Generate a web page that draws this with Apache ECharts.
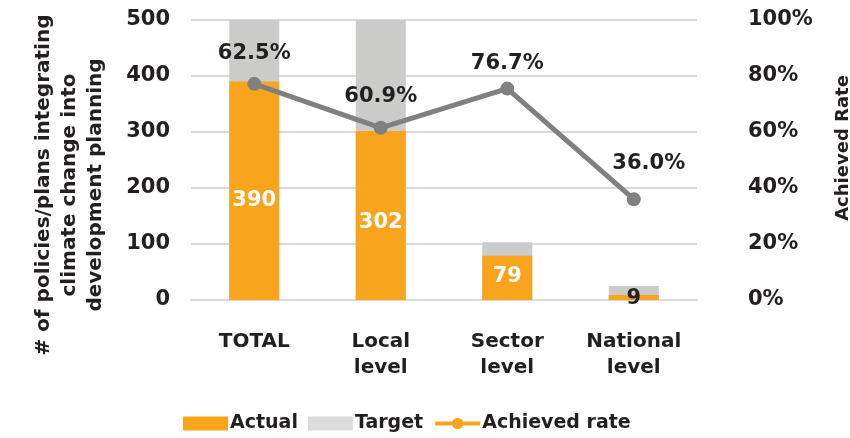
<!DOCTYPE html>
<html>
<head>
<meta charset="utf-8">
<script src="https://cdn.jsdelivr.net/npm/echarts@6/dist/echarts.min.js"></script>
<style>
  html, body { margin: 0; padding: 0; background: #fff; }
  #chart { width: 850px; height: 438px; }
</style>
</head>
<body>
<div id="chart"></div>
<script>
// values
var categories = ['TOTAL', 'Local\nlevel', 'Sector\nlevel', 'National\nlevel'];
var actual = [390, 302, 79, 9];
var target = [500, 500, 103, 25];
var achievedRate = [77.2, 61.5, 75.5, 36];
var rateLabels = ['62.5%', '60.9%', '76.7%', '36.0%'];
var leftTicks = [0, 100, 200, 300, 400, 500];
var rightTicks = [0, 20, 40, 60, 80, 100];

var FONT = 'DejaVu Sans';
var INK = '#231f20';
var ORANGE = '#f8a51d';
var GREY_BAR = '#cbcbca';
var GREY_LINE = '#808080';

// label nudges (x, y)
var rateOffsets = [[0, -1], [0, -2], [0, 4], [15, -6]];
var barLabelOffsets = [[0, 10], [0, 7], [0, -1], [0, 1]];

var chart = echarts.init(document.getElementById('chart'));

var option = {
    animation: false,
    grid: { left: 191, right: 153, top: 20, bottom: 138, outerBoundsMode: 'none', containLabel: false },
    legend: {
        left: 178,
        top: 409,
        itemWidth: 45,
        itemHeight: 14,
        itemGap: 10,
        textStyle: { fontFamily: FONT, fontWeight: 'bold', fontSize: 19, color: INK, padding: [0, 0, 0, -3] },
        data: [
            { name: 'Actual', icon: 'rect' },
            { name: 'Target', icon: 'rect', itemStyle: { color: '#dcdcdc' } },
            { name: 'Achieved rate', itemStyle: { color: ORANGE, borderWidth: 0 }, lineStyle: { color: ORANGE, width: 4 } }
        ]
    },
    // right axis title
    graphic: [{
        type: 'text',
        rotation: Math.PI / 2,
        x: 843,
        y: 148,
        style: {
            text: 'Achieved Rate',
            align: 'center',
            verticalAlign: 'middle',
            font: 'bold 18px "DejaVu Sans"',
            fill: INK
        }
    }],
    xAxis: {
        type: 'category',
        data: categories,
        axisTick: { show: false },
        axisLine: { lineStyle: { color: '#dadada', width: 2 } },
        axisLabel: {
            margin: 29,
            fontFamily: FONT, fontWeight: 'bold', fontSize: 20, color: INK, lineHeight: 26
        }
    },
    yAxis: [{
        type: 'value',
        min: 0, max: 500, interval: 100,
        name: '# of policies/plans integrating\nclimate change into\ndevelopment planning',
        nameLocation: 'middle',
        nameGap: 82,
        nameRotate: 90,
        nameTextStyle: { fontFamily: FONT, fontWeight: 'bold', fontSize: 20, color: INK, lineHeight: 26, padding: [0, 50, 0, 0] },
        axisLine: { show: false },
        axisTick: { show: false },
        splitLine: { lineStyle: { color: '#dadada', width: 2 } },
        axisLabel: {
            margin: 21,
            fontFamily: FONT, fontWeight: 'bold', fontSize: 21, color: INK,
            formatter: function (v) { return leftTicks.indexOf(v) > -1 ? String(v) : ''; }
        }
    }, {
        type: 'value',
        min: 0, max: 100, interval: 20,
        axisLine: { show: false },
        axisTick: { show: false },
        splitLine: { show: false },
        axisLabel: {
            margin: 51,
            align: 'left',
            fontFamily: FONT, fontWeight: 'bold', fontSize: 21, color: INK,
            formatter: function (v) { return rightTicks.indexOf(v) > -1 ? v + '%' : ''; }
        }
    }],
    series: [{
        name: 'Target',
        type: 'bar',
        data: target,
        barWidth: 50,
        itemStyle: { color: GREY_BAR }
    }, {
        name: 'Actual',
        type: 'bar',
        data: actual.map(function (v, i) {
            return {
                value: v,
                label: {
                    color: i === actual.length - 1 ? INK : '#fff',
                    offset: barLabelOffsets[i]
                }
            };
        }),
        barWidth: 50,
        barGap: '-100%',
        itemStyle: { color: ORANGE },
        label: {
            show: true,
            position: 'inside',
            fontFamily: FONT, fontWeight: 'bold', fontSize: 21
        }
    }, {
        name: 'Achieved rate',
        type: 'line',
        yAxisIndex: 1,
        data: achievedRate.map(function (v, i) {
            return { value: v, label: { offset: rateOffsets[i] } };
        }),
        symbol: 'circle',
        symbolSize: 14,
        itemStyle: { color: GREY_LINE },
        lineStyle: { color: GREY_LINE, width: 5 },
        z: 5,
        label: {
            show: true,
            position: 'top',
            distance: 12,
            fontFamily: FONT, fontWeight: 'bold', fontSize: 21, color: INK,
            formatter: function (p) { return rateLabels[p.dataIndex]; }
        }
    }]
};

chart.setOption(option);
</script>
</body>
</html>
